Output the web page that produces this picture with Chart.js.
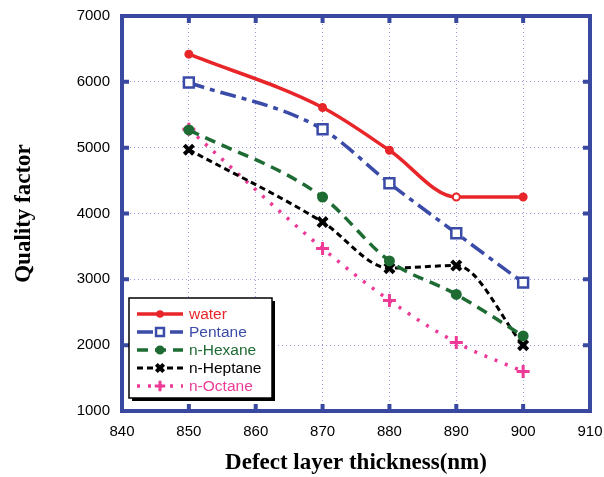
<!DOCTYPE html>
<html>
<head>
<meta charset="utf-8">
<script src="https://cdn.jsdelivr.net/npm/chart.js@4/dist/chart.umd.min.js"></script>
<style>
  body { margin: 0; background: #fff; }
  #wrap { width: 604px; height: 477px; }
</style>
</head>
<body>
<div id="wrap"><canvas id="myChart"></canvas></div>
<script>
const thickness = [850, 870, 880, 890, 900];
const water = [6420, 5610, 4960, 4250, 4250];
const pentane = [5990, 5280, 4460, 3700, 2950];
const hexane = [5270, 4250, 3280, 2770, 2140];
const heptane = [4970, 3870, 3170, 3210, 2000];
const octane = [5280, 3470, 2680, 2040, 1600];

const names = ['water', 'Pentane', 'n-Hexane', 'n-Heptane', 'n-Octane'];
const frameBlue = '#3a49a0';

function pts(arr) {
  return thickness.map((t, i) => ({ x: t, y: arr[i] }));
}

const series = [
  { label: names[0], data: pts(water), borderColor: '#e8262a', backgroundColor: '#e8262a',
    pointStyle: 'circle', pointRadius: 3.5, pointBackgroundColor: ['#e8262a', '#e8262a', '#e8262a', '#fff', '#e8262a'],
    borderDash: [], borderWidth: 3.5, textColor: '#e8262a' },
  { label: names[1], data: pts(pentane), borderColor: '#3b4ba8', backgroundColor: '#fff',
    pointStyle: 'rect', pointRadius: 7, pointBorderWidth: 2.5,
    borderDash: [16, 6, 5, 6], borderWidth: 3.5, textColor: '#3b4ba8' },
  { label: names[2], data: pts(hexane), borderColor: '#1e6b34', backgroundColor: '#1e6b34',
    pointStyle: 'circle', pointRadius: 4.5,
    borderDash: [11, 7], borderWidth: 3.5, textColor: '#1e6b34' },
  { label: names[3], data: pts(heptane), borderColor: '#000', backgroundColor: '#000',
    pointStyle: 'crossRot', pointRadius: 6.5, pointBorderWidth: 4,
    borderDash: [6, 4], borderWidth: 3, textColor: '#000' },
  { label: names[4], data: pts(octane), borderColor: '#ec3a96', backgroundColor: '#ec3a96',
    pointStyle: 'cross', pointRadius: 6.5, pointBorderWidth: 3,
    borderDash: [3, 8], borderWidth: 3.5, textColor: '#ec3a96' }
];

const datasets = series.map(s => Object.assign({
  cubicInterpolationMode: 'monotone',
  pointBorderColor: s.borderColor,
  pointBorderWidth: 2,
  fill: false
}, s));

// frame, inward ticks and the boxed legend
const framePlugin = {
  id: 'frame',
  afterDraw(chart) {
    const ctx = chart.ctx;
    const a = chart.chartArea;
    const xs = chart.scales.x, ys = chart.scales.y;
    ctx.save();
    ctx.strokeStyle = frameBlue;
    ctx.lineWidth = 4;
    ctx.strokeRect(a.left, a.top, a.right - a.left, a.bottom - a.top);
    ctx.beginPath();
    for (let v = 850; v <= 900; v += 10) {
      const px = xs.getPixelForValue(v);
      ctx.moveTo(px, a.bottom); ctx.lineTo(px, a.bottom - 7);
      ctx.moveTo(px, a.top); ctx.lineTo(px, a.top + 7);
    }
    for (let v = 2000; v <= 6000; v += 1000) {
      const py = ys.getPixelForValue(v);
      ctx.moveTo(a.left, py); ctx.lineTo(a.left + 7, py);
      ctx.moveTo(a.right, py); ctx.lineTo(a.right - 7, py);
    }
    ctx.stroke();

    // legend
    const lx = 129, ly = 298, lw = 143, lh = 100;
    ctx.fillStyle = '#000';
    ctx.fillRect(lx + 3, ly + 3, lw, lh);
    ctx.fillStyle = '#fff';
    ctx.fillRect(lx, ly, lw, lh);
    ctx.strokeStyle = '#000';
    ctx.lineWidth = 1.5;
    ctx.strokeRect(lx, ly, lw, lh);
    ctx.font = '15.5px Arial, "Liberation Sans", sans-serif';
    ctx.textBaseline = 'middle';
    chart.data.datasets.forEach((ds, i) => {
      const y = 314 + i * 18;
      const x0 = 137, x1 = 183;
      ctx.strokeStyle = ds.borderColor;
      ctx.lineWidth = ds.borderWidth;
      ctx.setLineDash(ds.borderDash);
      ctx.beginPath(); ctx.moveTo(x0, y); ctx.lineTo(x1, y); ctx.stroke();
      ctx.setLineDash([]);
      ctx.fillStyle = ds.backgroundColor;
      ctx.strokeStyle = ds.borderColor;
      ctx.lineWidth = ds.pointBorderWidth;
      Chart.helpers.drawPoint(ctx, {
        pointStyle: ds.pointStyle, radius: ds.pointRadius * 0.8, borderWidth: ds.pointBorderWidth
      }, (x0 + x1) / 2, y);
      ctx.fillStyle = ds.textColor;
      ctx.fillText(ds.label, 189, y + 1);
    });
    ctx.restore();
  }
};

const tickFont = { family: 'Arial, "Liberation Sans"', size: 15 };
const titleFont = { family: '"Times New Roman", "Liberation Serif", serif', size: 23, weight: 'bold' };

const myChart = new Chart(document.getElementById('myChart'), {
  type: 'line',
  data: { datasets: datasets },
  options: {
    responsive: true,
    maintainAspectRatio: false,
    animation: false,
    layout: { padding: { top: 16, right: 14, left: 0, bottom: 0 } },
    plugins: { legend: { display: false }, tooltip: { enabled: false } },
    scales: {
      x: {
        type: 'linear', min: 840, max: 910,
        ticks: { stepSize: 10, color: '#000', padding: 12, font: tickFont, callback: v => String(v) },
        grid: { color: '#9a9ae6', lineWidth: 1, drawTicks: false },
        border: { display: false, dash: [1, 3] },
        title: { display: true, text: 'Defect layer thickness(nm)', color: '#000', font: titleFont, padding: { top: 14, bottom: 0 } },
        afterFit(s) { s.height = 66; s.paddingRight = 0; s.paddingLeft = 0; }
      },
      y: {
        min: 1000, max: 7000,
        ticks: { stepSize: 1000, color: '#000', padding: 12, font: tickFont, callback: v => String(v) },
        grid: { color: '#9a9ae6', lineWidth: 1, drawTicks: false },
        border: { display: false, dash: [1, 3] },
        title: { display: true, text: 'Quality factor', color: '#000', font: titleFont, padding: { top: 10, bottom: 8 } },
        afterFit(s) { s.width = 122; s.paddingTop = 0; s.paddingBottom = 0; }
      }
    }
  },
  plugins: [framePlugin]
});
</script>
</body>
</html>
